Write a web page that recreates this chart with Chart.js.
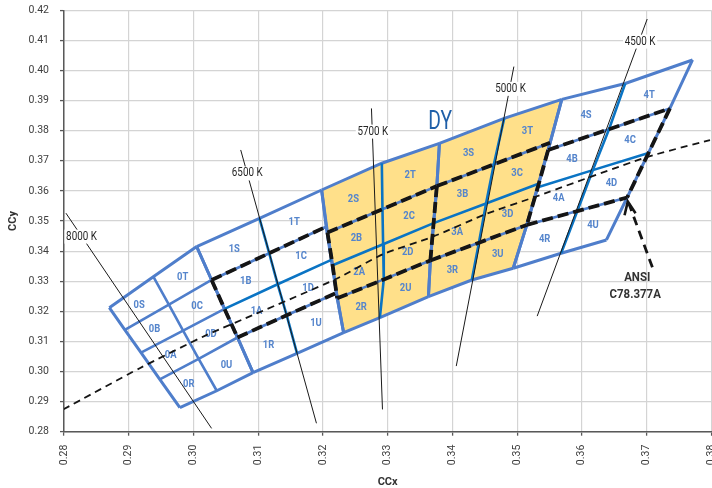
<!DOCTYPE html>
<html>
<head>
<meta charset="utf-8">
<script src="https://cdn.jsdelivr.net/npm/chart.js@4.4.0/dist/chart.umd.min.js"></script>
<style>
  html, body { margin: 0; padding: 0; background: #fff; overflow: hidden; }
  #wrap { width: 712px; height: 488px; }
</style>
</head>
<body>
<div id="wrap"><canvas id="binChart" width="712" height="488"></canvas></div>
<script>
// axis ticks
const xTickValues = [0.28, 0.29, 0.30, 0.31, 0.32, 0.33, 0.34, 0.35, 0.36, 0.37, 0.38];
const xTickLabels = ['0.28', '0.29', '0.30', '0.31', '0.32', '0.33', '0.34', '0.35', '0.36', '0.37', '0.38'];
const yTickValues = [0.28, 0.29, 0.30, 0.31, 0.32, 0.33, 0.34, 0.35, 0.36, 0.37, 0.38, 0.39, 0.40, 0.41, 0.42];
const yTickLabels = ['0.28', '0.29', '0.30', '0.31', '0.32', '0.33', '0.34', '0.35', '0.36', '0.37', '0.38', '0.39', '0.40', '0.41', '0.42'];

// bin corners per CCT group: 5 rows (top -> bottom) x 3 columns (left, middle, right), [CCx, CCy]
const group0 = [
  [[0.2870, 0.3212], [0.2938, 0.3315], [0.3005, 0.3415]],
  [[0.2894, 0.3138], [0.2962, 0.3222], [0.3028, 0.3304]],
  [[0.2919, 0.3063], [0.2984, 0.3136], [0.3048, 0.3208]],
  [[0.2948, 0.2974], [0.3008, 0.3042], [0.3068, 0.3113]],
  [[0.2979, 0.2880], [0.3036, 0.2936], [0.3092, 0.2996]]
];
const group1 = [
  [[0.3005, 0.3415], [0.3102, 0.3509], [0.3198, 0.3603]],
  [[0.3028, 0.3304], [0.3117, 0.3393], [0.3205, 0.3481]],
  [[0.3048, 0.3208], [0.3130, 0.3290], [0.3213, 0.3371]],
  [[0.3068, 0.3113], [0.3144, 0.3187], [0.3221, 0.3261]],
  [[0.3092, 0.2996], [0.3160, 0.3060], [0.3232, 0.3129]]
];
const group2 = [
  [[0.3198, 0.3603], [0.3291, 0.3692], [0.3380, 0.3758]],
  [[0.3207, 0.3462], [0.3292, 0.3539], [0.3376, 0.3616]],
  [[0.3215, 0.3353], [0.3293, 0.3423], [0.3371, 0.3493]],
  [[0.3222, 0.3243], [0.3294, 0.3306], [0.3366, 0.3369]],
  [[0.3232, 0.3129], [0.3288, 0.3179], [0.3363, 0.3249]]
];
const group3 = [
  [[0.3380, 0.3758], [0.3480, 0.3841], [0.3569, 0.3904]],
  [[0.3376, 0.3616], [0.3464, 0.3688], [0.3551, 0.3760]],
  [[0.3371, 0.3493], [0.3452, 0.3558], [0.3533, 0.3624]],
  [[0.3366, 0.3369], [0.3441, 0.3428], [0.3515, 0.3487]],
  [[0.3363, 0.3249], [0.3430, 0.3304], [0.3494, 0.3343]]
];
const group4 = [
  [[0.3569, 0.3904], [0.3667, 0.3957], [0.3771, 0.4035]],
  [[0.3548, 0.3736], [0.3642, 0.3805], [0.3736, 0.3874]],
  [[0.3532, 0.3612], [0.3617, 0.3669], [0.3703, 0.3726]],
  [[0.3515, 0.3487], [0.3593, 0.3533], [0.3670, 0.3578]],
  [[0.3494, 0.3343], [0.3568, 0.3393], [0.3638, 0.3437]]
];
const groupNames = ['0', '1', '2', '3', '4'];
const binRowNames = [['S', 'T'], ['B', 'C'], ['A', 'D'], ['R', 'U']];

// black body locus
const planckX = [0.2799, 0.2917, 0.3020, 0.3098, 0.3221, 0.3293, 0.3370, 0.3453, 0.3525, 0.3700, 0.3798];
const planckY = [0.2874, 0.3011, 0.3121, 0.3193, 0.3308, 0.3390, 0.3448, 0.3524, 0.3578, 0.3712, 0.3769];

// isotherms
const isoNames = ['8000 K', '6500 K', '5700 K', '5000 K', '4500 K'];
const isoTop = [[0.2803, 0.3526], [0.3073, 0.3736], [0.3275, 0.3874], [0.3495, 0.4013], [0.3701, 0.4171]];
const isoBottom = [[0.3028, 0.2811], [0.3190, 0.2828], [0.3292, 0.2874], [0.3406, 0.3018], [0.3531, 0.3184]];
const isoLabelAt = [[0.2827, 0.3448], [0.3083, 0.3658], [0.3277, 0.3797], [0.3490, 0.3939], [0.3690, 0.4096]];

// annotations
const ansiText = ['ANSI', 'C78.377A'];
const ansiTextAt = [0.3684, 0.3282];
const ansiArrow = [[0.3709, 0.3346], [0.3673, 0.3556]];
const ansiArrowHead = [[0.3666, 0.3519], [0.3671, 0.3565], [0.3683, 0.3526]];
const dyText = 'DY';
const dyTextAt = [0.3381, 0.3827];

const lightBlue = '#4f7ecb';
const darkBlue = '#0a74c4';
const labelBlue = '#5585cc';
const dyYellow = '#ffe08a';
const ansiBlack = '#151515';

const groups = [group0, group1, group2, group3, group4];

function pts(list) {
    return list.map(p => ({ x: p[0], y: p[1] }));
}

function column(g, c, from = 0, to = 4) {
    return g.slice(from, to + 1).map(r => r[c]);
}

const datasets = [];
function addLine(points, color, width, dash, tension) {
    datasets.push({
        data: pts(points),
        showLine: true,
        pointRadius: 0,
        borderColor: color,
        borderWidth: width,
        borderDash: dash || [],
        tension: tension || 0,
        fill: false
    });
}

// light blue frame of every group
groups.forEach((g, gi) => {
    addLine(g[1], lightBlue, 2.6);
    addLine(g[3], lightBlue, 2.6);
    if (gi === 0) {
        addLine(g[2], lightBlue, 2.6);
        addLine(column(g, 1), lightBlue, 2.6);
    }
    addLine(column(g, 0), lightBlue, 3);
    addLine(column(g, 2), lightBlue, 3);
    addLine(g[0], lightBlue, 3);
    addLine(g[4], lightBlue, 3);
});

// dark blue centre lines of the ANSI quadrangles
groups.slice(1).forEach(g => {
    addLine(g[2], darkBlue, 2.6);
    addLine(column(g, 1), darkBlue, 2.6);
});

// ANSI quadrangles, black dashes (shared edges drawn once)
groups.slice(1).forEach((g, i) => {
    addLine(g[1], ansiBlack, 3.8, [11, 5]);
    addLine(g[3], ansiBlack, 3.8, [11, 5]);
    addLine(column(g, 0, 1, 3), ansiBlack, 3.8, [11, 5]);
    if (i === 3) addLine(column(g, 2, 1, 3), ansiBlack, 3.8, [11, 5]);
});

// isotherms
isoTop.forEach((p, i) => addLine([p, isoBottom[i]], '#1a1a1a', 1));

// black body locus
addLine(planckX.map((x, i) => [x, planckY[i]]), ansiBlack, 1.8, [7, 5], 0.2);

// arrow to ANSI text
addLine(ansiArrow, ansiBlack, 2.8, [9, 6]);
addLine(ansiArrowHead, ansiBlack, 2.6);

// later lines on top
datasets.forEach((d, i) => { d.order = -i; });

function drawText(ctx, text, px, py, font, color, sx, bg) {
    ctx.save();
    ctx.translate(px, py);
    ctx.scale(sx, 1);
    ctx.font = font;
    ctx.textAlign = 'center';
    ctx.textBaseline = 'middle';
    if (bg) {
        const w = ctx.measureText(text).width;
        ctx.fillStyle = bg;
        ctx.fillRect(-w / 2 - 2, -7, w + 4, 14);
    }
    ctx.fillStyle = color;
    ctx.fillText(text, 0, 0);
    ctx.restore();
}

const binPlugin = {
    id: 'binPlugin',
    beforeDatasetsDraw(chart) {
        const { ctx, scales: { x, y } } = chart;
        const a = group2, b = group3;
        const outline = [a[0][0], a[0][1], a[0][2], b[0][1], b[0][2], b[1][2], b[2][2], b[3][2], b[4][2],
            b[4][1], b[4][0], a[4][1], a[4][0], a[3][0], a[2][0], a[1][0]];
        ctx.save();
        ctx.beginPath();
        outline.forEach((p, i) => {
            const px = x.getPixelForValue(p[0]);
            const py = y.getPixelForValue(p[1]);
            if (i === 0) ctx.moveTo(px, py); else ctx.lineTo(px, py);
        });
        ctx.closePath();
        ctx.fillStyle = dyYellow;
        ctx.fill();
        ctx.restore();

        // bin names in cell centres
        groups.forEach((g, gi) => {
            for (let r = 0; r < 4; r++) {
                for (let c = 0; c < 2; c++) {
                    const corners = [g[r][c], g[r][c + 1], g[r + 1][c + 1], g[r + 1][c]];
                    const cx = corners.reduce((s, p) => s + p[0], 0) / 4;
                    const cy = corners.reduce((s, p) => s + p[1], 0) / 4;
                    drawText(ctx, groupNames[gi] + binRowNames[r][c], x.getPixelForValue(cx), y.getPixelForValue(cy),
                        'bold 11.5px Roboto', labelBlue, 0.82);
                }
            }
        });
    },
    afterDatasetsDraw(chart) {
        const { ctx, scales: { x, y } } = chart;
        isoNames.forEach((name, i) => {
            drawText(ctx, name, x.getPixelForValue(isoLabelAt[i][0]), y.getPixelForValue(isoLabelAt[i][1]),
                '12px Roboto', '#262626', 0.82, '#ffffff');
        });
        drawText(ctx, dyText, x.getPixelForValue(dyTextAt[0]), y.getPixelForValue(dyTextAt[1]),
            '26px Roboto', '#1f5fa8', 0.74);
        const ax = x.getPixelForValue(ansiTextAt[0]);
        const ay = y.getPixelForValue(ansiTextAt[1]);
        drawText(ctx, ansiText[0], ax + 1, ay - 8.5, 'bold 13px Roboto', '#333333', 0.88);
        drawText(ctx, ansiText[1], ax - 1, ay + 8.5, 'bold 13px Roboto', '#333333', 0.88);
    }
};

const tickFont = { family: 'Roboto', size: 10.5 };
const titleFont = { family: 'Roboto', size: 11, weight: 'bold', lineHeight: 1 };

new Chart(document.getElementById('binChart'), {
    type: 'scatter',
    data: { datasets: datasets },
    options: {
        responsive: false,
        animation: false,
        devicePixelRatio: 1,
        layout: { padding: { top: 10.3, right: 0.7, bottom: 0, left: 0 } },
        plugins: {
            legend: { display: false },
            tooltip: { enabled: false }
        },
        scales: {
            x: {
                type: 'linear',
                min: 0.28,
                max: 0.38,
                afterBuildTicks: s => { s.ticks = xTickValues.map(v => ({ value: v })); },
                afterFit: s => { s.height = 56.3; s.paddingLeft = 0; s.paddingRight = 0; },
                ticks: {
                    callback: (v, i) => xTickLabels[i],
                    minRotation: 90,
                    maxRotation: 90,
                    autoSkip: false,
                    padding: 9,
                    color: '#404040',
                    font: tickFont
                },
                grid: { color: '#d4d4d4', lineWidth: 1.2, tickLength: 4, tickColor: '#595959', tickWidth: 1.3 },
                border: { color: '#595959', width: 1.5 },
                title: { display: true, text: 'CCx', color: '#333333', font: titleFont, padding: 0 }
            },
            y: {
                type: 'linear',
                min: 0.28,
                max: 0.42,
                afterBuildTicks: s => { s.ticks = yTickValues.map(v => ({ value: v })); },
                afterFit: s => { s.width = 64; s.paddingTop = 0; s.paddingBottom = 0; },
                ticks: {
                    callback: (v, i) => yTickLabels[i],
                    autoSkip: false,
                    padding: 11,
                    color: '#404040',
                    font: tickFont
                },
                grid: { color: '#d4d4d4', lineWidth: 1.2, tickLength: 4, tickColor: '#595959', tickWidth: 1.3 },
                border: { color: '#595959', width: 1.5 },
                title: { display: true, text: 'CCy', color: '#333333', font: titleFont, padding: { top: 8, bottom: 0 } }
            }
        }
    },
    plugins: [binPlugin]
});
</script>
</body>
</html>
